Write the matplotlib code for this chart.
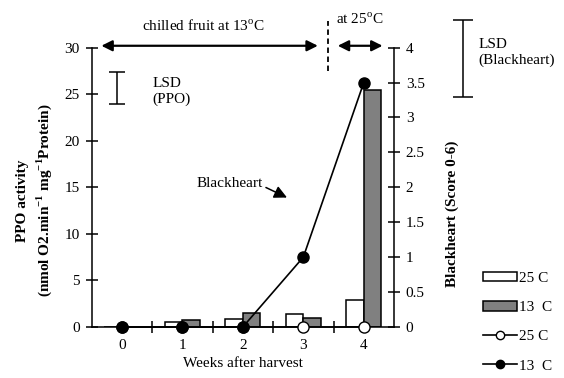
"""PPO activity and blackheart score of fruit stored at 13 and 25 C."""

import matplotlib

matplotlib.use("Agg")
import matplotlib.pyplot as plt
import numpy as np
from matplotlib.lines import Line2D
from matplotlib.patches import Patch

plt.rcParams["font.family"] = ["Liberation Serif", "DejaVu Serif"]
plt.rcParams["mathtext.fontset"] = "custom"
plt.rcParams["mathtext.rm"] = "Liberation Serif"
plt.rcParams["mathtext.bf"] = "Liberation Serif:bold"
plt.rcParams["font.size"] = 11

WEEKS = [0, 1, 2, 3, 4]
WEEK_LABELS = ["0", "1", "2", "3", "4"]
PPO_25C = [0.0, 0.58, 0.83, 1.35, 2.95]
PPO_13C = [0.0, 0.72, 1.5, 0.97, 25.5]
BH_25C = [0, 0, 0, 0, 0]
BH_13C = [0, 0, 0, 1.0, 3.5]
LSD_PPO = (23.9, 27.4)
LSD_BH = (3.29, 4.39)

GREY = "#808080"


def main():
    fig = plt.figure(figsize=(5.64, 3.78), dpi=100)
    ax = fig.add_axes([0.1626, 0.135, 0.536, 0.739])
    x = np.array(WEEKS, dtype=float)
    w = 0.29

    ax.bar(x - w / 2, PPO_25C, w, color="white", edgecolor="black", lw=1.1, zorder=2)
    ax.bar(x + w / 2, PPO_13C, w, color=GREY, edgecolor="black", lw=1.1, zorder=2)
    ax.set_xlim(-0.5, 4.5)
    ax.set_ylim(0, 30)
    ax.set_yticks(range(0, 31, 5))
    ax.set_xticks(x)
    ax.set_xticklabels(WEEK_LABELS)
    ax.set_xticks(x[:-1] + 0.5, minor=True)
    ax.tick_params(axis="x", which="major", length=0, pad=9)
    ax.tick_params(axis="x", which="minor", direction="inout", length=9, width=1.1)
    ax.tick_params(axis="y", direction="inout", length=9, width=1.1, pad=4)
    for side in ("top", "right"):
        ax.spines[side].set_visible(False)
    for side in ("left", "bottom"):
        ax.spines[side].set_linewidth(1.1)
    ax.set_xlabel("Weeks after harvest", labelpad=3)

    ax2 = ax.twinx()
    ax2.plot(x, BH_25C, "-o", color="black", mfc="white", mec="black", ms=8, lw=1.2,
             zorder=3, clip_on=False)
    ax2.plot(x, BH_13C, "-o", color="black", mfc="black", ms=8, lw=1.2,
             zorder=4, clip_on=False)
    ax2.set_ylim(0, 4)
    yt = np.arange(0, 4.01, 0.5)
    ax2.set_yticks(yt)
    ax2.set_yticklabels([f"{v:g}" for v in yt])
    ax2.tick_params(axis="y", direction="inout", length=9, width=1.1, pad=4)
    for side in ("top", "left", "bottom"):
        ax2.spines[side].set_visible(False)
    ax2.spines["right"].set_linewidth(1.1)

    # y labels
    fig.text(0.040, 0.47, "PPO activity", rotation=90, ha="center", va="center",
             fontweight="bold")
    fig.text(0.078, 0.47,
             r"(nmol O2.min$^{\mathbf{-1}}$ mg$^{\mathbf{-1}}$Protein)",
             rotation=90, ha="center", va="center", fontweight="bold")
    fig.text(0.801, 0.435, "Blackheart (Score 0-6)", rotation=90, ha="center",
             va="center", fontweight="bold")

    # period arrows
    arr = dict(arrowstyle="<|-|>", color="black", lw=1.6, mutation_scale=16,
               shrinkA=0, shrinkB=0)
    ax.annotate("", xy=(-0.34, 30.2), xytext=(3.24, 30.2), arrowprops=arr,
                annotation_clip=False)
    ax.annotate("", xy=(3.57, 30.2), xytext=(4.31, 30.2), arrowprops=arr,
                annotation_clip=False)
    ax.text(1.34, 32.3, r"chilled fruit at 13$^{\rm o}$C", ha="center", va="center",
            clip_on=False)
    ax.text(3.93, 33.1, r"at 25$^{\rm o}$C", ha="center", va="center", clip_on=False)
    ax.plot([3.41, 3.41], [27.5, 32.9], ls=(0, (3, 2)), color="black", lw=1.3,
            clip_on=False)

    # LSD bars
    ax.errorbar([-0.08], [sum(LSD_PPO) / 2], yerr=[(LSD_PPO[1] - LSD_PPO[0]) / 2],
                color="black", capsize=6, lw=1.1, capthick=1.1, clip_on=False)
    ax.text(0.51, 25.3, "LSD\n(PPO)", ha="left", va="center", linespacing=1.3)
    ax2.errorbar([5.64], [sum(LSD_BH) / 2], yerr=[(LSD_BH[1] - LSD_BH[0]) / 2],
                 color="black", capsize=7, lw=1.1, capthick=1.1, clip_on=False)
    ax2.text(5.89, 3.93, "LSD\n(Blackheart)", ha="left", va="center",
             linespacing=1.3, clip_on=False)

    ax.annotate("Blackheart", xy=(2.73, 13.9), xytext=(1.24, 15.4), va="center",
                arrowprops=dict(arrowstyle="-|>", color="black", lw=1.1,
                                mutation_scale=19, shrinkA=0, shrinkB=0,
                                relpos=(1.0, 0.3)))

    handles = [
        Patch(facecolor="white", edgecolor="black", lw=1.1),
        Patch(facecolor=GREY, edgecolor="black", lw=1.1),
        Line2D([], [], color="black", marker="o", mfc="white", ms=6, lw=1.2),
        Line2D([], [], color="black", marker="o", mfc="black", ms=6, lw=1.2),
    ]
    fig.legend(handles, ["25 C", "13  C", "25 C", "13  C"], loc="lower left",
               bbox_to_anchor=(0.838, -0.014), frameon=False, handlelength=2.2,
               handleheight=0.6, labelspacing=1.05, handletextpad=0.15,
               borderpad=0.2)

    fig.savefig("out.png", dpi=100)
    plt.close(fig)


if __name__ == "__main__":
    main()
